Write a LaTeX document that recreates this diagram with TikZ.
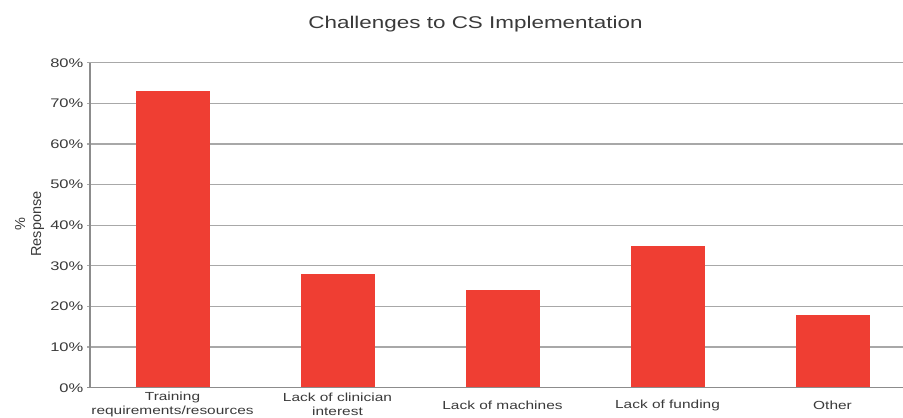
\documentclass[tikz,border=0pt]{standalone}
\usepackage{fontspec}
\setmainfont{Liberation Sans}[FakeStretch=1.32]
\newfontfamily\ylabfont{Liberation Sans}
\definecolor{barred}{HTML}{EF3E33}
\definecolor{gridgray}{HTML}{A8A8A8}
\definecolor{axisgray}{HTML}{8C8C8C}
\definecolor{labelgray}{HTML}{3A3A3A}

\begin{document}
\begin{tikzpicture}[x=1pt,y=1pt,
	gridline/.style={gridgray, line width=1.2pt},
	axisline/.style={axisgray, line width=1.2pt},
	ticklabel/.style={anchor=east, text=labelgray, inner sep=0pt, font=\fontsize{12.5}{14}\selectfont},
	catlabel/.style={text=labelgray, align=center, inner sep=0pt, font=\fontsize{11.7}{14.5}\selectfont}]

		\useasboundingbox (0,0) rectangle (903,418);

		\node[text=labelgray, font=\fontsize{17}{20}\selectfont] (title) at (475.5,394) {Challenges to CS Implementation};

		% gridlines and percent labels
		\foreach \v/\t in {0/0,1/10,2/20,3/30,4/40,5/50,6/60,7/70,8/80} {
			\draw[gridline] (87,30.3+40.625*\v) -- (903,30.3+40.625*\v);
			\node[ticklabel] (tick\v) at (83.5,30.3+40.625*\v) {\t\%};
		}

		% bars
		\foreach \i/\val in {0/73,1/28,2/24,3/35,4/18}
			\fill[barred] (135.5+165*\i,30.3) rectangle ++(74.5,4.0625*\val);

		\draw[axisline] (90,30.3) -- (90,355.3);
		\draw[axisline] (87,30.3) -- (903,30.3);

		\node[rotate=90, align=center, text=labelgray, font=\ylabfont\fontsize{14.5}{16}\selectfont] (ylab) at (29.5,194) {\%\\Response};

		\node[catlabel] (cat1) at (172.5,13.5) {Training\\requirements/resources};
		\node[catlabel] (cat2) at (337.5,13.5) {Lack of clinician\\interest};
		\node[catlabel] (cat3) at (502.5,12.2) {Lack of machines};
		\node[catlabel] (cat4) at (667.5,12.2) {Lack of funding};
		\node[catlabel] (cat5) at (832.5,12.2) {Other};
	\end{tikzpicture}
\end{document}
